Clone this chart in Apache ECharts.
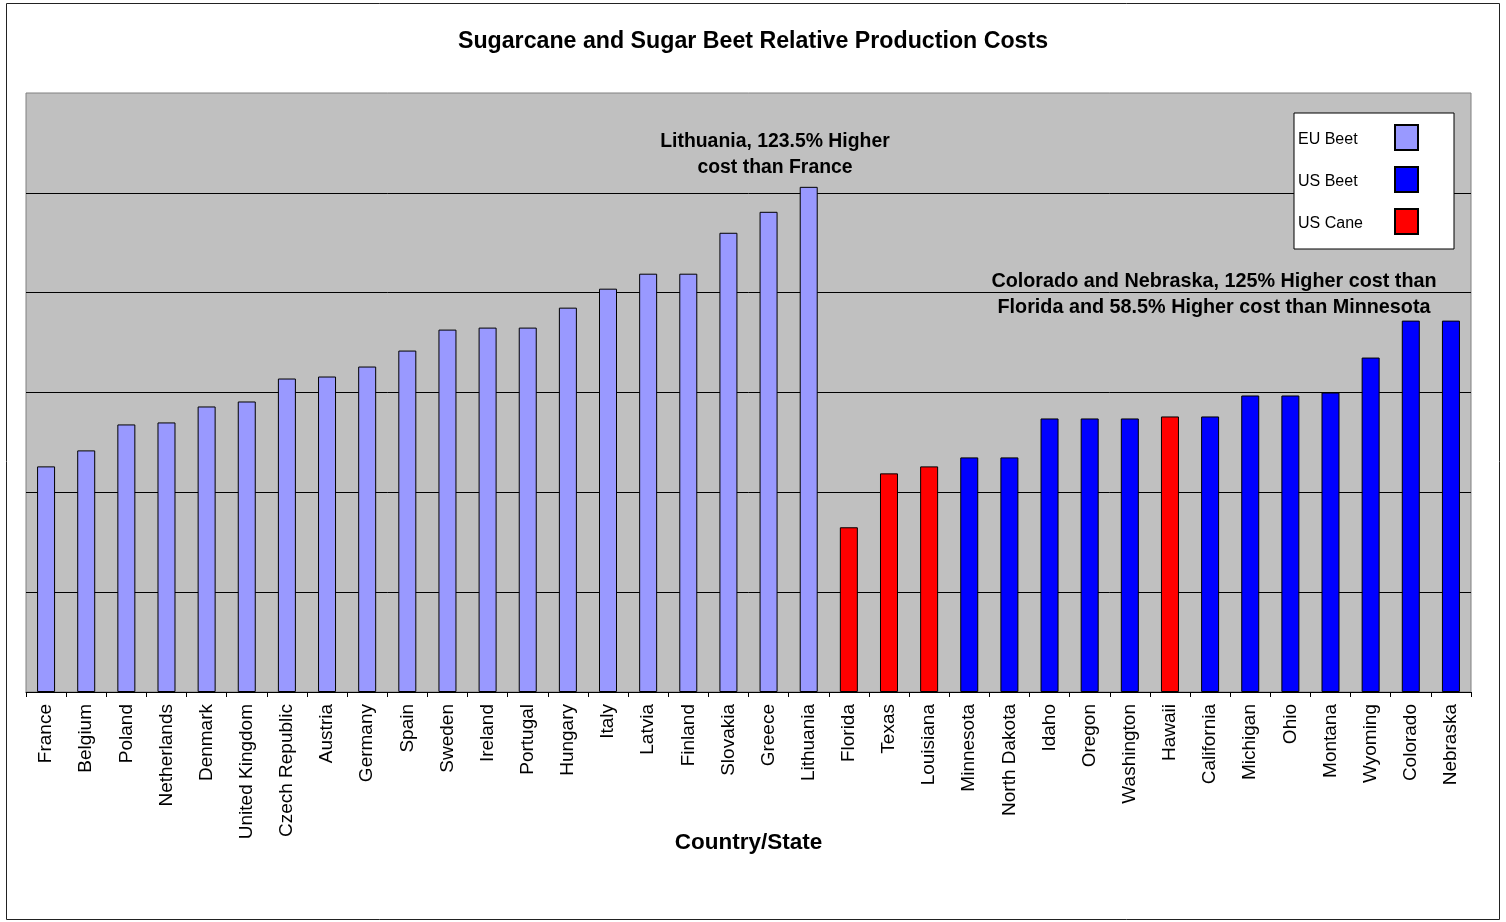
<!DOCTYPE html>
<html>
<head>
<meta charset="utf-8">
<script src="https://cdn.jsdelivr.net/npm/echarts@6/dist/echarts.min.js"></script>
<style>
html,body{margin:0;padding:0;background:#fff;}
#c{width:1506px;height:922px;}
</style>
</head>
<body>
<div id="c"></div>
<script>
const categories = ["France","Belgium","Poland","Netherlands","Denmark","United Kingdom","Czech Republic","Austria","Germany","Spain","Sweden","Ireland","Portugal","Hungary","Italy","Latvia","Finland","Slovakia","Greece","Lithuania","Florida","Texas","Louisiana","Minnesota","North Dakota","Idaho","Oregon","Washington","Hawaii","California","Michigan","Ohio","Montana","Wyoming","Colorado","Nebraska"];

const euBeet = [2.26,2.42,2.68,2.70,2.86,2.91,3.14,3.16,3.26,3.42,3.63,3.65,3.65,3.85,4.04,4.19,4.19,4.60,4.81,5.06,'-','-','-','-','-','-','-','-','-','-','-','-','-','-','-','-'];
const usBeet = ['-','-','-','-','-','-','-','-','-','-','-','-','-','-','-','-','-','-','-','-','-','-','-',2.35,2.35,2.74,2.74,2.74,'-',2.76,2.97,2.97,3.00,3.35,3.72,3.72];
const usCane = ['-','-','-','-','-','-','-','-','-','-','-','-','-','-','-','-','-','-','-','-',1.65,2.19,2.26,'-','-','-','-','-',2.76,'-','-','-','-','-','-','-'];

const titleText = "Sugarcane and Sugar Beet Relative Production Costs";
const axisTitle = "Country/State";
const note1 = "Lithuania, 123.5% Higher\ncost than France";
const note2 = "Colorado and Nebraska, 125% Higher cost than\nFlorida and 58.5% Higher cost than Minnesota";

const FONT = "'Liberation Sans', Arial, sans-serif";
const chart = echarts.init(document.getElementById('c'), null, {renderer: 'canvas'});

function barSeries(name, data, color) {
  return {
    name: name, type: 'bar', stack: 'all', data: data, barWidth: 18,
    itemStyle: {color: color, borderColor: '#000', borderWidth: 1},
    emphasis: {disabled: true}
  };
}

chart.setOption({
  animation: false,
  backgroundColor: '#fff',
  title: {
    text: titleText, left: 'center', top: 25,
    textStyle: {fontFamily: FONT, fontSize: 23.2, fontWeight: 'bold', color: '#000'}
  },
  grid: {
    left: 26, top: 93, width: 1445, height: 599,
    show: true, backgroundColor: '#C0C0C0', borderColor: '#808080', borderWidth: 1
  },
  legend: {
    orient: 'vertical', left: 1294, top: 113, align: 'right',
    backgroundColor: '#fff', borderColor: '#000', borderWidth: 1,
    padding: [11, 35, 14, 4], itemGap: 15, itemWidth: 23, itemHeight: 25,
    icon: 'rect',
    formatter: function (name) { return '{t|' + name + '}'; },
    textStyle: {
      fontFamily: FONT, fontSize: 16, color: '#000',
      rich: {t: {fontFamily: FONT, fontSize: 16, color: '#000', width: 92, align: 'left', padding: [4, 0, 0, 0]}}
    },
    data: ['EU Beet', 'US Beet', 'US Cane']
  },
  xAxis: {
    type: 'category', data: categories,
    name: axisTitle, nameLocation: 'middle', nameGap: 139, nameMoveOverlap: false,
    nameTextStyle: {fontFamily: FONT, fontSize: 22.5, fontWeight: 'bold', color: '#000'},
    axisLine: {lineStyle: {color: '#000', width: 1}},
    axisTick: {show: true, interval: 0, length: 5, lineStyle: {color: '#000'}},
    axisLabel: {interval: 0, rotate: 90, margin: 12, fontFamily: FONT, fontSize: 19, color: '#000'}
  },
  yAxis: {
    type: 'value', min: 0, max: 6, interval: 1,
    axisLine: {show: false}, axisTick: {show: false}, axisLabel: {show: false},
    splitLine: {show: true, showMaxLine: false, lineStyle: {color: '#000', width: 1}}
  },
  series: [
    barSeries('EU Beet', euBeet, '#9999FF'),
    barSeries('US Beet', usBeet, '#0000FF'),
    barSeries('US Cane', usCane, '#FF0000')
  ],
  graphic: [
    {type: 'rect', shape: {x: 6.5, y: 3.5, width: 1493, height: 916}, style: {fill: 'none', stroke: '#222', lineWidth: 1}, z: 100},
    {type: 'text', x: 775, y: 155, style: {text: note1, fontFamily: FONT, fontSize: 19.4, fontWeight: 'bold', fill: '#000', align: 'center', verticalAlign: 'middle', lineHeight: 26}, z: 100},
    {type: 'text', x: 1214, y: 295, style: {text: note2, fontFamily: FONT, fontSize: 19.8, fontWeight: 'bold', fill: '#000', align: 'center', verticalAlign: 'middle', lineHeight: 26}, z: 100}
  ]
});
</script>
</body>
</html>
